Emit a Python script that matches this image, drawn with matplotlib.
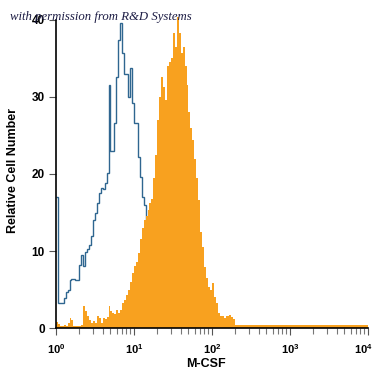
import numpy as np
import matplotlib
matplotlib.use("Agg")
import matplotlib.pyplot as plt
from matplotlib.transforms import ScaledTranslation

plt.rcParams['font.family'] = ['Liberation Sans', 'DejaVu Sans']
plt.rcParams['mathtext.fontset'] = 'custom'
plt.rcParams['mathtext.bf'] = 'Liberation Sans:bold'
plt.rcParams['mathtext.rm'] = 'Liberation Sans:bold'

# log10 range of the fluorescence axis and number of channels
log_min, log_max, n_bins = 0, 4, 160

# Orange: M-CSF stained cells (counts per channel)
orange_counts = [
    0.8, 0.5, 0.3, 0.3, 0.4, 0.3, 0.6, 1.3, 1.0, 0.3,
    0.2, 0.3, 0.2, 0.4, 2.8, 2.2, 1.5, 1.0, 0.7, 0.9,
    0.6, 1.5, 1.3, 0.6, 1.3, 1.2, 1.4, 2.8, 2.2, 2.0,
    1.8, 2.3, 1.9, 2.4, 3.3, 3.6, 4.3, 4.9, 6.0, 7.1,
    8.0, 8.6, 9.7, 11.5, 13.0, 14.0, 14.5, 15.3, 16.2, 16.8,
    19.5, 22.5, 27.0, 30.0, 32.6, 31.3, 29.6, 34.0, 34.5, 35.0,
    38.3, 36.5, 40.4, 38.3, 35.7, 36.5, 34.0, 31.5, 28.0, 26.0,
    24.4, 22.0, 19.5, 16.6, 12.5, 10.5, 7.9, 6.5, 5.3, 5.0,
    5.8, 4.0, 3.2, 1.9, 1.5, 1.6, 1.3, 1.6, 1.5, 1.7,
    1.4, 1.2,
    0.35, 0.35, 0.35, 0.35, 0.35, 0.35, 0.35, 0.35, 0.35, 0.35,
    0.35, 0.35, 0.35, 0.35, 0.35, 0.35, 0.35, 0.35, 0.35, 0.35,
    0.35, 0.35, 0.35, 0.35, 0.35, 0.35, 0.35, 0.35, 0.35, 0.35,
    0.35, 0.35, 0.35, 0.35, 0.35, 0.35, 0.35, 0.35, 0.35, 0.35,
    0.35, 0.35, 0.35, 0.35, 0.35, 0.35, 0.35, 0.35, 0.35, 0.35,
    0.35, 0.35, 0.35, 0.35, 0.35, 0.35, 0.35, 0.35, 0.35, 0.35,
    0.35, 0.35, 0.35, 0.35, 0.35, 0.35, 0.35, 0.35,
]

# Blue open histogram: isotype control
blue_counts = [
    17.0, 3.2, 3.2, 3.2, 3.9, 4.7, 5.0, 6.2, 6.4, 6.4,
    6.2, 6.2, 8.2, 9.5, 8.0, 9.9, 10.3, 10.8, 12.0, 14.0,
    14.9, 16.2, 17.5, 18.2, 18.0, 18.8, 20.1, 31.5, 23.0, 23.0,
    26.6, 32.6, 37.4, 39.6, 35.7, 33.0, 33.0, 30.0, 33.8, 29.2,
    26.6, 26.6, 22.2, 19.6, 17.0, 16.0, 14.0, 12.0, 10.0, 8.0,
    6.0, 4.5, 3.0, 2.0, 1.2, 0.6, 0.2, 0.0,
]

x_ticks = [1, 10, 100, 1000, 10000]
x_tick_labels = [r'$\mathbf{10^{0}}$', r'$\mathbf{10^{1}}$', r'$\mathbf{10^{2}}$',
                 r'$\mathbf{10^{3}}$', r'$\mathbf{10^{4}}$']
y_ticks = [0, 10, 20, 30, 40]
x_label = 'M-CSF'
y_label = 'Relative Cell Number'
watermark = 'with permission from R&D Systems'

edges = 10 ** np.linspace(log_min, log_max, n_bins + 1)

fig = plt.figure(figsize=(3.75, 3.75), dpi=100)
ax = fig.add_axes([0.149, 0.1253, 0.832, 0.842])

ax.stairs(blue_counts, edges[:len(blue_counts) + 1], color='#2f6690',
          linewidth=1.0, baseline=None, zorder=2)
ax.stairs(orange_counts, edges, fill=True, color='#f8a11f',
          linewidth=0, zorder=3)

ax.set_xscale('log')
ax.set_xlim(10 ** log_min, 10 ** log_max)
ax.set_ylim(0, 41)

ax.spines['top'].set_visible(False)
ax.spines['right'].set_visible(False)
ax.spines['left'].set_bounds(0, 40)
for s in ('left', 'bottom'):
    ax.spines[s].set_linewidth(1.2)
    ax.spines[s].set_zorder(5)

ax.set_xticks(x_ticks)
ax.set_xticklabels(x_tick_labels)
ax.set_yticks(y_ticks)
ax.set_yticklabels([str(v) for v in y_ticks], fontweight='bold')
ax.tick_params(axis='both', which='major', direction='out', length=5,
               width=0.8, color='#555555', labelsize=8.5, pad=3)
ax.tick_params(axis='x', which='minor', direction='out', length=4,
               width=0.8, color='#777777')
ax.tick_params(axis='x', which='major', pad=5, labelsize=8)

# keep the last x tick label inside the figure, as in the reference
last = ax.get_xticklabels()[-1]
last.set_transform(last.get_transform() +
                   ScaledTranslation(-5 / 100, 0, fig.dpi_scale_trans))

ax.set_xlabel(x_label, fontsize=9, fontweight='bold')
ax.xaxis.set_label_coords((206 - 56) / 312, -0.095)
ax.set_ylabel(y_label, fontsize=9, fontweight='bold')
ax.yaxis.set_label_coords(-0.118, 0.5)

fig.text(10 / 375, 1 - 20 / 375, watermark, fontsize=9.2, style='italic',
         family=['Liberation Serif', 'DejaVu Serif'], color='#1c1c44',
         ha='left', va='baseline', zorder=10)

fig.savefig('out.png', dpi=100)
